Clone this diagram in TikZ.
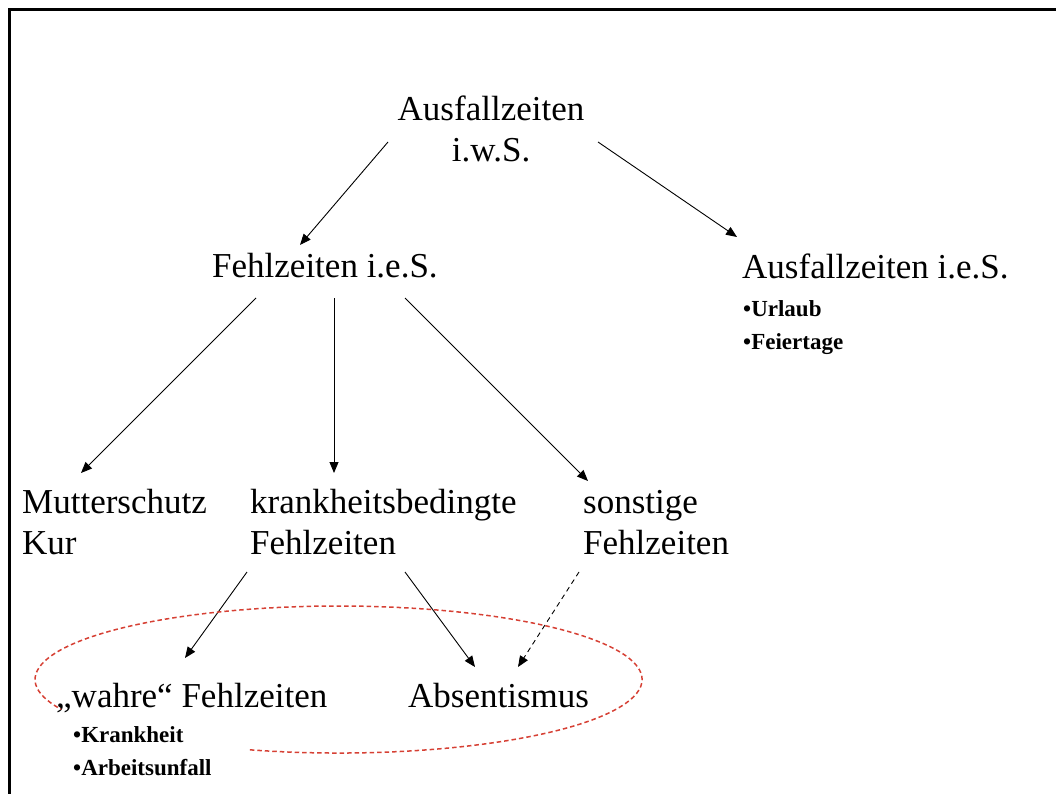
\documentclass[tikz,border=0pt]{standalone}
\usepackage{fontspec}
\setmainfont{Liberation Serif}
\usetikzlibrary{arrows.meta}
\definecolor{ellred}{RGB}{214,64,52}
\begin{document}
\begin{tikzpicture}[x=1pt,y=1pt,
  big/.style={font=\fontsize{35}{41}\selectfont, inner sep=0pt, align=left},
  small/.style={font=\fontsize{23}{33}\selectfont\bfseries, inner sep=0pt, align=left},
  arr/.style={line width=0.9pt, -{Triangle[length=11pt,width=9pt]}},
  dasharr/.style={arr, dash pattern=on 5pt off 4pt},
  frameline/.style={line width=3pt},
  ell/.style={ellred, line width=1.5pt, dash pattern=on 4.5pt off 3pt}]
\useasboundingbox (0,0) rectangle (1056,-794);
\draw[frameline] (9,-794) -- (9,-10) -- (1056,-10);

% base anchor of multi-line nodes = baseline of the last line
\node[big, align=center, anchor=base] (A1) at (491,-162) {Ausfallzeiten\\i.w.S.};
\node[big, anchor=base west] (F) at (212,-277) {Fehlzeiten i.e.S.};
\node[big, anchor=base west] (A2) at (742,-278) {Ausfallzeiten i.e.S.};
\node[small, anchor=base west] (A2L) at (743,-349) {•Urlaub\\•Feiertage};
\node[big, anchor=base west] (M) at (22,-554) {Mutterschutz\\Kur};
\node[big, anchor=base west] (K) at (250,-554) {krankheitsbedingte\\Fehlzeiten};
\node[big, anchor=base west] (S) at (583,-554) {sonstige\\Fehlzeiten};
\node[big, anchor=base west] (W) at (56,-707) {„wahre“ Fehlzeiten};
\node[small, anchor=base west] (WL) at (73,-775) {•Krankheit\\•Arbeitsunfall};
\node[big, anchor=base west] (AB) at (408,-707) {Absentismus};

\draw[arr] ([shift={(-103,20)}]A1.base) -- ([shift={(88,32)}]F.base west);
\draw[arr] ([shift={(107,20)}]A1.base) -- ([shift={(-5,41)}]A2.base west);
\draw[arr] ([shift={(44,-21)}]F.base west) -- ([shift={(59,81)}]M.base west);
\draw[arr] ([shift={(122,-21)}]F.base west) -- ([shift={(84,81)}]K.base west);
\draw[arr] ([shift={(193,-21)}]F.base west) -- ([shift={(5,73)}]S.base west);
\draw[arr] ([shift={(-3,-18)}]K.base west) -- ([shift={(129,49)}]W.base west);
\draw[arr] ([shift={(155,-18)}]K.base west) -- ([shift={(67,40)}]AB.base west);
\draw[dasharr] ([shift={(-4,-18)}]S.base west) -- ([shift={(110,40)}]AB.base west);

\draw[ell] (249.8,-749.8) arc[start angle=253, end angle=564, x radius=303.5, y radius=73.5];
\end{tikzpicture}
\end{document}
